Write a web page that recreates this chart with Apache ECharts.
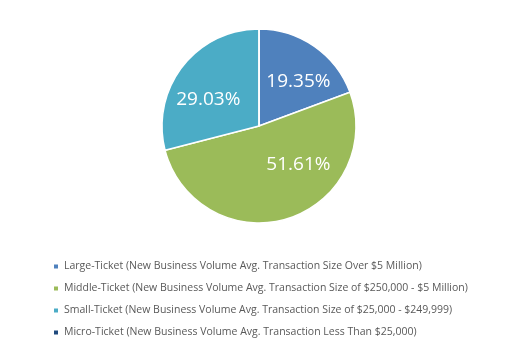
<!DOCTYPE html>
<html>
<head>
<meta charset="utf-8">
<script src="https://cdn.jsdelivr.net/npm/echarts@6/dist/echarts.min.js"></script>
<style>html,body{margin:0;padding:0;background:#fff}#c{width:530px;height:352px}</style>
</head>
<body>
<div id="c"></div>
<script>
var categories = [
  'Large-Ticket (New Business Volume Avg. Transaction Size Over $5 Million)',
  'Middle-Ticket (New Business Volume Avg. Transaction Size of $250,000 - $5 Million)',
  'Small-Ticket (New Business Volume Avg. Transaction Size of $25,000 - $249,999)',
  'Micro-Ticket (New Business Volume Avg. Transaction Less Than $25,000)'
];
var values = [6, 16, 9, 0];
var colors = ['#4F81BD', '#9BBB59', '#4BACC6', '#1F497D'];
var labelOffsets = [[10, -2], [24, -11], [-10, 5], [0, 0]];

var total = values.reduce(function (a, b) { return a + b; }, 0);

var chart = echarts.init(document.getElementById('c'), null, {renderer: 'canvas'});
chart.setOption({
  animation: false,
  color: colors,
  legend: {
    orient: 'vertical',
    left: 47,
    top: 256,
    itemWidth: 6,
    itemHeight: 6,
    itemGap: 11,
    icon: 'rect',
    textStyle: {fontFamily: 'Open Sans', fontSize: 10.5, color: '#595959'},
    data: categories
  },
  series: [{
    type: 'pie',
    center: [259, 126],
    radius: [0, 97],
    startAngle: 90,
    clockwise: true,
    itemStyle: {borderColor: '#fff', borderWidth: 1.5},
    label: {
      show: true,
      position: 'inside',
      color: '#fff',
      fontFamily: 'Open Sans',
      fontSize: 19,
      formatter: function (p) { return p.value === 0 ? '' : (p.value / total * 100).toFixed(2) + '%'; }
    },
    labelLine: {show: false},
    emphasis: {disabled: true},
    data: categories.map(function (c, i) {
      return {name: c, value: values[i], label: {offset: labelOffsets[i]}};
    })
  }]
});
</script>
</body>
</html>
